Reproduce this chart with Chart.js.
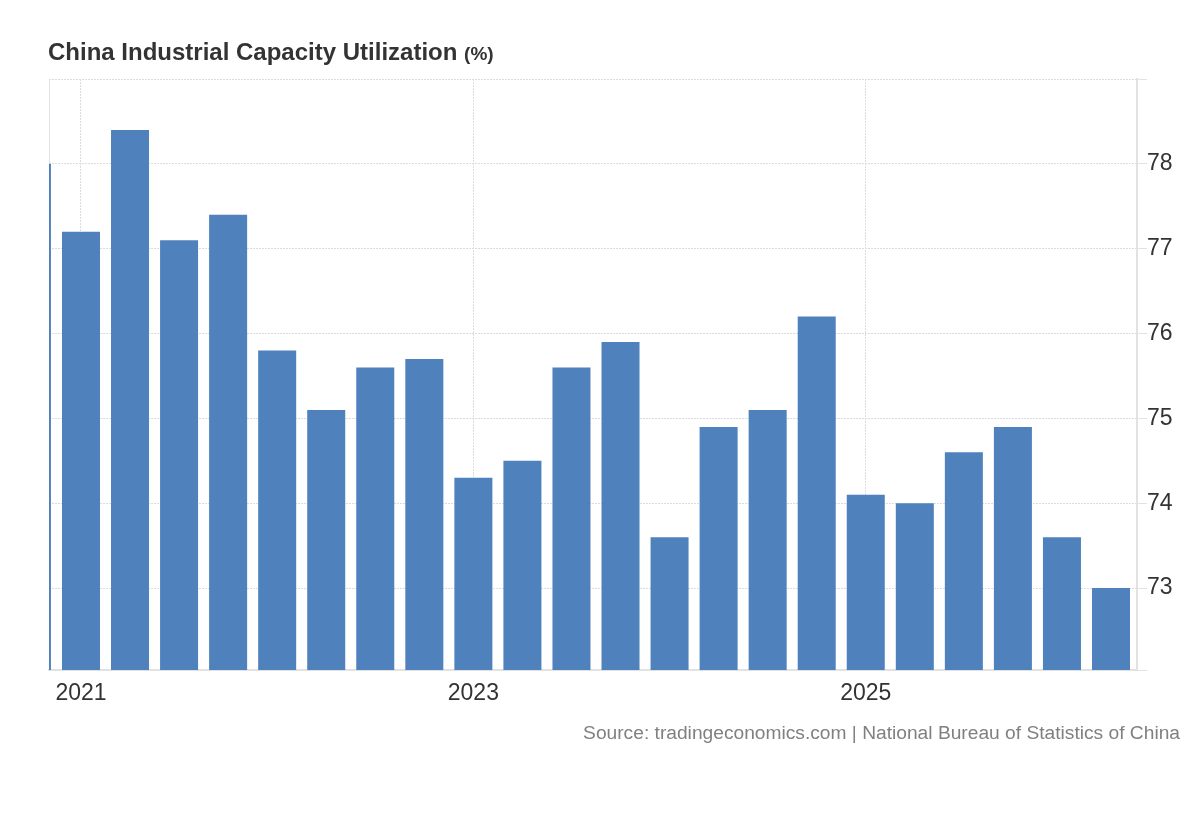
<!DOCTYPE html>
<html><head><meta charset="utf-8">
<script src="https://cdn.jsdelivr.net/npm/chart.js@4.4.1/dist/chart.umd.min.js"></script>
<style>
html,body{margin:0;padding:0;background:#fff;}
#wrap{position:relative;width:1200px;height:820px;overflow:hidden;}
#c{position:absolute;left:0;top:0;}
#title{position:absolute;left:48px;top:38px;font-family:"Liberation Sans",Arial,sans-serif;font-weight:bold;font-size:24px;color:#333;line-height:28px;white-space:nowrap;}
#title span{font-size:19px;}
#source{position:absolute;right:20px;top:722px;font-family:"Liberation Sans",Arial,sans-serif;font-size:19.2px;color:#808080;line-height:22px;white-space:nowrap;}
</style></head><body>
<div id="wrap"><canvas id="c" width="1200" height="820"></canvas>
<div id="title">China Industrial Capacity Utilization <span>(%)</span></div>
<div id="source">Source: tradingeconomics.com | National Bureau of Statistics of China</div></div>
<script>
const quarters = ['2020 Q4',
  '2021 Q1','2021 Q2','2021 Q3','2021 Q4',
  '2022 Q1','2022 Q2','2022 Q3','2022 Q4',
  '2023 Q1','2023 Q2','2023 Q3','2023 Q4',
  '2024 Q1','2024 Q2','2024 Q3','2024 Q4',
  '2025 Q1','2025 Q2','2025 Q3','2025 Q4',
  '2026 Q1','2026 Q2'];
const values = [78.0,
  77.2,78.4,77.1,77.4,
  75.8,75.1,75.6,75.7,
  74.3,74.5,75.6,75.9,
  73.6,74.9,75.1,76.2,
  74.1,74.0,74.6,74.9,
  73.6,73.0];
const yearLabels = ['2021','2023','2025'];
const yearTickQuarters = ['2021 Q1','2023 Q1','2025 Q1'];
const yTicks = [73,74,75,76,77,78];
const yMin = 72.035, yMax = 79;
const xMin = 0.348, xMax = 22.53;

const FONT = '"Liberation Sans", Arial, sans-serif';
const ctx = document.getElementById('c').getContext('2d');
new Chart(ctx, {
  type: 'bar',
  data: {
    datasets: [{
      data: values.map((v, i) => ({x: i, y: v})),
      backgroundColor: '#4f81bd',
      borderWidth: 0,
      barPercentage: 0.775,
      categoryPercentage: 1
    }]
  },
  options: {
    responsive: false,
    animation: false,
    devicePixelRatio: 1,
    layout: {padding: {left: 49, top: 79, right: 0, bottom: 0}},
    plugins: {legend: {display: false}, tooltip: {enabled: false}, title: {display: false}},
    scales: {
      x: {
        type: 'linear', position: 'bottom', min: xMin, max: xMax,
        offset: false,
        afterBuildTicks: s => { s.ticks = yearTickQuarters.map(q => ({value: quarters.indexOf(q)})); },
        afterFit: s => { s.height = 150; },
        ticks: {
          autoSkip: false, maxRotation: 0, padding: 10,
          font: {family: FONT, size: 23}, color: '#333',
          callback: v => yearLabels[yearTickQuarters.indexOf(quarters[v])]
        },
        grid: {offset: false, color: '#dcdcdc', lineWidth: 1, drawTicks: false},
        border: {display: true, color: '#e2e2e2', width: 2, dash: [2, 1]}
      },
      y: {
        type: 'linear', position: 'right', min: yMin, max: yMax,
        afterBuildTicks: s => { s.ticks = [yMin, ...yTicks, yMax].map(v => ({value: v})); },
        afterFit: s => { s.width = 63; },
        ticks: {
          padding: 0, font: {family: FONT, size: 23}, color: '#333',
          callback: v => yTicks.includes(v) ? String(v) : ''
        },
        grid: {
          color: c => (c.tick && c.tick.value === yMin) ? 'rgba(0,0,0,0)' : '#dcdcdc',
          tickColor: '#e2e2e2', tickLength: 10, tickBorderDash: [], lineWidth: 1
        },
        border: {display: true, color: '#e2e2e2', width: 2, dash: [2, 1]}
      },
      yLeft: {
        type: 'linear', position: 'left', min: yMin, max: yMax,
        afterFit: s => { s.width = 0; },
        ticks: {display: false},
        grid: {display: false},
        border: {display: true, color: '#e2e2e2', width: 1}
      }
    }
  }
});
</script>
</body></html>
